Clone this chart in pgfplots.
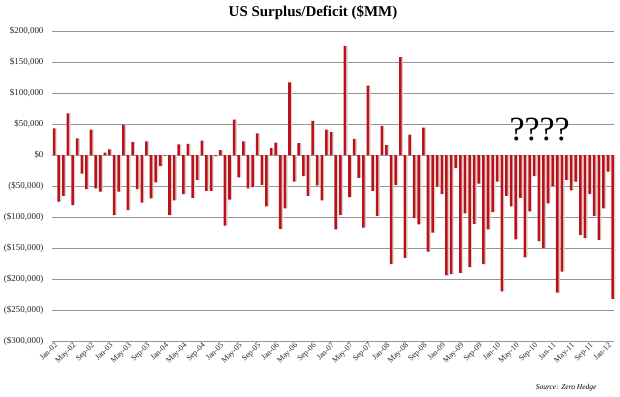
\documentclass[border=0pt]{standalone}
\usepackage{fontspec}
\setmainfont{Liberation Serif}
\usepackage{pgfplots}
\pgfplotsset{compat=1.18}
\usepackage{pgfplotstable}
\definecolor{barred}{RGB}{185,18,24}
\definecolor{shadow}{RGB}{225,205,205}
\definecolor{gridgray}{RGB}{150,150,150}
\pgfplotstableread{
x y
0 43000
1 -75000
2 -66000
3 67000
4 -81000
5 27000
6 -30000
7 -55000
8 41000
9 -54000
10 -59000
11 4000
12 9000
13 -97000
14 -59000
15 49000
16 -89000
17 21000
18 -55000
19 -77000
20 22000
21 -70000
22 -44000
23 -18000
24 -1000
25 -97000
26 -73000
27 17000
28 -63000
29 18000
30 -69000
31 -40000
32 23000
33 -58000
34 -58000
35 -2000
36 8000
37 -114000
38 -72000
39 57000
40 -36000
41 22000
42 -54000
43 -52000
44 35000
45 -48000
46 -83000
47 11000
48 20000
49 -119000
50 -86000
51 117000
52 -43000
53 19000
54 -34000
55 -66000
56 55000
57 -49000
58 -73000
59 41000
60 37000
61 -120000
62 -97000
63 176000
64 -68000
65 26000
66 -37000
67 -117000
68 112000
69 -58000
70 -98000
71 47000
72 16000
73 -176000
74 -48000
75 158000
76 -166000
77 33000
78 -102000
79 -112000
80 44000
81 -156000
82 -125000
83 -51000
84 -63000
85 -194000
86 -192000
87 -21000
88 -190000
89 -94000
90 -181000
91 -111000
92 -46000
93 -176000
94 -120000
95 -92000
96 -43000
97 -220000
98 -66000
99 -83000
100 -136000
101 -69000
102 -165000
103 -91000
104 -34000
105 -139000
106 -150000
107 -78000
108 -50000
109 -222000
110 -188000
111 -40000
112 -57000
113 -43000
114 -129000
115 -134000
116 -63000
117 -98000
118 -137000
119 -86000
120 -27000
121 -232000
}\surplus
\begin{document}
\begin{tikzpicture}[x=1bp,y=1bp]
\useasboundingbox (0,0) rectangle (620,396);
\begin{axis}[
  at={(52bp,55bp)}, anchor=south west, scale only axis,
  width=562bp, height=310bp,
  xmin=-0.45, xmax=121.3, ymin=-300000, ymax=200000,
  clip=false,
  ytick={-300000,-250000,-200000,-150000,-100000,-50000,0,50000,100000,150000,200000},
  yticklabels={{(\$300,000)},{(\$250,000)},{(\$200,000)},{(\$150,000)},{(\$100,000)},{(\$50,000)},{\$0},{\$50,000},{\$100,000},{\$150,000},{\$200,000}},
  scaled y ticks=false,
  xtick={0,4,...,120},
  xticklabels={Jan-02,May-02,Sep-02,Jan-03,May-03,Sep-03,Jan-04,May-04,Sep-04,Jan-05,May-05,Sep-05,Jan-06,May-06,Sep-06,Jan-07,May-07,Sep-07,Jan-08,May-08,Sep-08,Jan-09,May-09,Sep-09,Jan-10,May-10,Sep-10,Jan-11,May-11,Sep-11,Jan-12},
  x tick label style={rotate=45, anchor=north east, font=\fontsize{8}{8}\selectfont, inner sep=0.5bp, color=black!85},
  y tick label style={font=\fontsize{9}{10}\selectfont, xshift=-5bp, color=black!85},
  ymajorgrids, grid style={gridgray, line width=0.9bp},
  axis line style={draw=none}, major tick length=0pt,
  ybar, bar width=0.55,
]
\addplot[fill=shadow, draw=none, bar shift=0.3] table[x=x,y=y] {\surplus};
\addplot[fill=barred, draw=none, bar shift=0] table[x=x,y=y] {\surplus};
\node[font=\fontsize{34}{34}\selectfont] at (axis cs:105.2,40300) {????};
\end{axis}
\node[font=\bfseries\fontsize{15}{16}\selectfont] at (313,383) {US Surplus/Deficit (\$MM)};
\node[anchor=east, font=\itshape\fontsize{7.5}{8}\selectfont] at (600,8) {Source: Zero Hedge};
\end{tikzpicture}
\end{document}
